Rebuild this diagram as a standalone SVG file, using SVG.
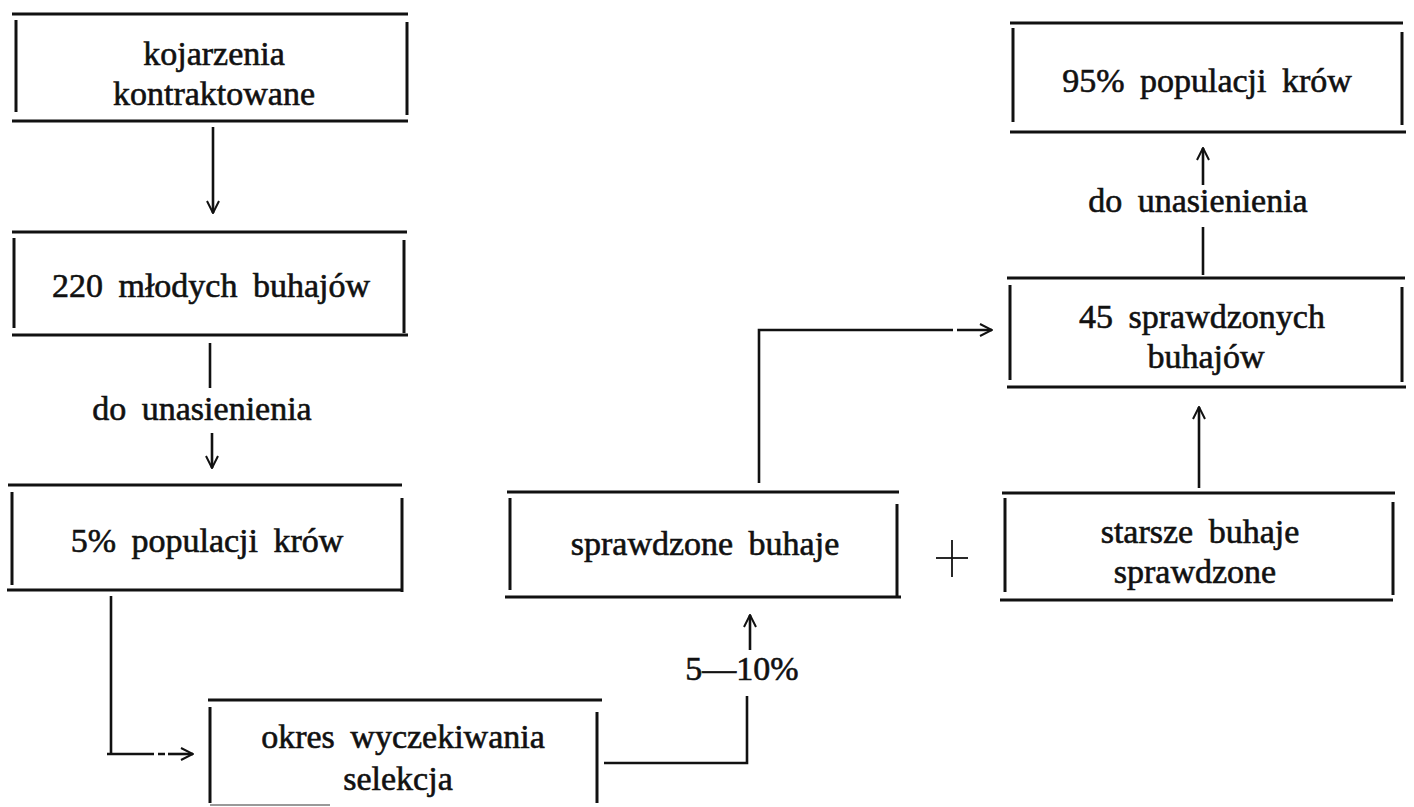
<svg xmlns="http://www.w3.org/2000/svg" width="1414" height="807" viewBox="0 0 1414 807">
<defs>
<marker id="arr" viewBox="0 0 14 14" refX="13" refY="7" markerWidth="14" markerHeight="14" markerUnits="userSpaceOnUse" orient="auto">
<path d="M1,1 L13,7 L1,13" fill="none" stroke="#111" stroke-width="2"/>
</marker>
<style>
.b line{stroke:#111;stroke-width:3;stroke-linecap:butt}
.t{font-family:"Liberation Serif","DejaVu Serif",serif;font-size:34px;fill:#111;stroke:#111;stroke-width:0.6;text-anchor:middle;word-spacing:7px}
.c path,.c line{stroke:#111;stroke-width:2.6;fill:none}
.a{marker-end:url(#arr)}
</style>
</defs>
<rect width="1414" height="807" fill="#fff"/>

<g id="n1" class="b">
<line x1="12" y1="14" x2="408" y2="14"/>
<line x1="12" y1="121" x2="408" y2="121"/>
<line x1="16" y1="20" x2="16" y2="112"/>
<line x1="407" y1="22" x2="407" y2="115"/>
<text class="t" x="214" y="65">kojarzenia</text>
<text class="t" x="214" y="105">kontraktowane</text>
</g>

<g id="n2" class="b">
<line x1="12" y1="232" x2="407" y2="232"/>
<line x1="12" y1="335" x2="408" y2="335"/>
<line x1="14" y1="238" x2="14" y2="328"/>
<line x1="404" y1="240" x2="404" y2="333"/>
<text class="t" x="211" y="297">220 młodych buhajów</text>
</g>

<g id="n3" class="b">
<line x1="8" y1="485" x2="402" y2="485"/>
<line x1="7" y1="590" x2="402" y2="590"/>
<line x1="12" y1="492" x2="12" y2="585"/>
<line x1="402" y1="498" x2="402" y2="592"/>
<text class="t" x="207" y="552">5% populacji krów</text>
</g>

<g id="n4" class="b">
<line x1="208" y1="700" x2="602" y2="700"/>
<line x1="210" y1="707" x2="210" y2="803"/>
<line x1="597" y1="712" x2="597" y2="803"/>
<line x1="210" y1="805" x2="330" y2="805" style="stroke:#999;stroke-width:2"/>
<text class="t" x="403" y="748">okres wyczekiwania</text>
<text class="t" x="398" y="790">selekcja</text>
</g>

<g id="n5" class="b">
<line x1="507" y1="492" x2="899" y2="492"/>
<line x1="505" y1="597" x2="901" y2="597"/>
<line x1="510" y1="498" x2="510" y2="590"/>
<line x1="897" y1="504" x2="897" y2="596"/>
<text class="t" x="705" y="555">sprawdzone buhaje</text>
</g>

<g id="plus">
<line x1="936" y1="558" x2="968" y2="558" stroke="#111" stroke-width="1.8"/>
<line x1="952" y1="540" x2="952" y2="577" stroke="#111" stroke-width="1.8"/>
</g>

<g id="n6" class="b">
<line x1="1007" y1="278" x2="1405" y2="278"/>
<line x1="1007" y1="387" x2="1406" y2="387"/>
<line x1="1010" y1="285" x2="1010" y2="380"/>
<line x1="1402" y1="287" x2="1402" y2="382"/>
<text class="t" x="1202" y="328">45 sprawdzonych</text>
<text class="t" x="1206" y="368">buhajów</text>
</g>

<g id="n7" class="b">
<line x1="1010" y1="23" x2="1403" y2="23"/>
<line x1="1010" y1="132" x2="1406" y2="132"/>
<line x1="1013" y1="28" x2="1013" y2="122"/>
<line x1="1402" y1="32" x2="1402" y2="125"/>
<text class="t" x="1207" y="92">95% populacji krów</text>
</g>

<g id="n8" class="b">
<line x1="1002" y1="493" x2="1395" y2="493"/>
<line x1="1000" y1="600" x2="1393" y2="600"/>
<line x1="1005" y1="498" x2="1005" y2="592"/>
<line x1="1393" y1="502" x2="1393" y2="595"/>
<text class="t" x="1200" y="543">starsze buhaje</text>
<text class="t" x="1195" y="583">sprawdzone</text>
</g>

<g id="connectors" class="c">
<line class="a" x1="213" y1="127" x2="213" y2="213"/>
<line x1="210" y1="343" x2="210" y2="388"/>
<line class="a" x1="212" y1="433" x2="212" y2="468"/>
<path d="M111,596 V753 M107,754 H154 M158,754 H165"/>
<line class="a" x1="168" y1="754" x2="193" y2="754"/>
<path d="M604,763 H747 V696"/>
<line class="a" x1="750" y1="650" x2="750" y2="615"/>
<path d="M759,483 V330 H953"/>
<line class="a" x1="957" y1="330" x2="992" y2="330"/>
<line class="a" x1="1199" y1="488" x2="1199" y2="407"/>
<line x1="1203" y1="275" x2="1203" y2="227"/>
<line class="a" x1="1203" y1="185" x2="1203" y2="148"/>
</g>

<g id="labels">
<text class="t" x="202" y="420">do unasienienia</text>
<text class="t" x="742" y="680">5—10%</text>
<text class="t" x="1198" y="212">do unasienienia</text>
</g>
</svg>
